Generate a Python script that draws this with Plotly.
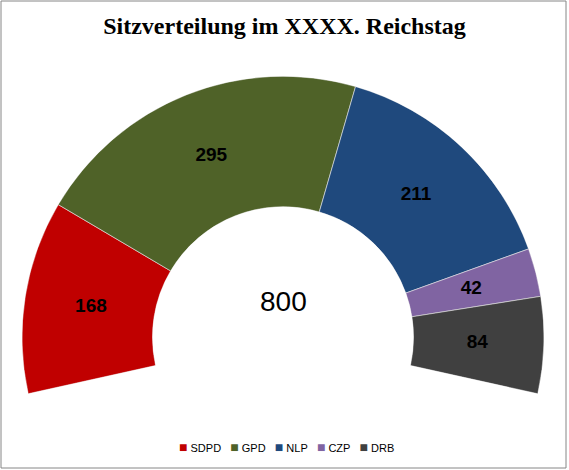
import numpy as np
import plotly.graph_objects as go

# seat data
parties = ["SDPD", "GPD", "NLP", "CZP", "DRB"]
seats = [168, 295, 211, 42, 84]
colors = ["#C00000", "#4F6228", "#1F497D", "#8064A2", "#404040"]

W, H = 569, 470
span = 205.0  # the arc dips a little below the horizontal on both sides
total = sum(seats)
deg_per_seat = span / total
ends = np.cumsum(seats) * deg_per_seat
widths = np.array(seats) * deg_per_seat
mids = ends - widths / 2

fig = go.Figure()
for i, party in enumerate(parties):
    fig.add_trace(go.Barpolar(
        r=[1], theta=[mids[i]], width=[widths[i]],
        name=party,
        marker_color=colors[i],
        marker_line_color="#e8e8e8",
        marker_line_width=0.6,
        hoverinfo="name",
    ))

# value labels in the middle of each ring segment
fig.add_trace(go.Scatterpolar(
    r=[0.49] * len(seats), theta=mids,
    mode="text",
    text=[str(s) for s in seats],
    textfont=dict(family="Liberation Sans", size=19, color="black", weight="bold"),
    showlegend=False, hoverinfo="skip",
))

# compact Excel-like legend: coloured square + name, all in one line
legend_text = "&nbsp;&nbsp;&nbsp;".join(
    f"<span style='color:{c};font-size:14px'>■</span>&nbsp;{p}" for p, c in zip(parties, colors)
)

tilt = (span - 180) / 2
fig.update_layout(
    width=W, height=H,
    margin=dict(l=0, r=0, t=0, b=0),
    paper_bgcolor="white",
    showlegend=False,
    title=dict(text="Sitzverteilung im XXXX. Reichstag",
               x=0.5, xanchor="center", y=1 - 26 / H, yanchor="middle",
               font=dict(family="Liberation Serif", size=24, color="black", weight="bold")),
    polar=dict(
        domain=dict(x=[22 / W, 544 / W], y=[1 - 394 / H, 1 - 76 / H]),
        sector=[-tilt, 180 + tilt],
        hole=0.5,
        bgcolor="white",
        radialaxis=dict(visible=False, range=[0, 1]),
        angularaxis=dict(visible=False, direction="clockwise", rotation=180 + tilt),
    ),
    annotations=[
        dict(text=str(total), x=283 / W, y=1 - 301 / H, xref="paper", yref="paper",
             showarrow=False, font=dict(family="Liberation Sans", size=28, color="black")),
        dict(text=legend_text, x=286 / W, y=1 - 447 / H, xref="paper", yref="paper",
             xanchor="center", yanchor="middle", showarrow=False,
             font=dict(family="Liberation Sans", size=11, color="black")),
    ],
    shapes=[dict(type="rect", xref="paper", yref="paper",
                 x0=1 / W, x1=566 / W, y0=1 - 468 / H, y1=1 - 1 / H,
                 line=dict(color="#868686", width=1))],
)

# page body has a default 8px margin; drop it so the chart sits at 0,0
fig.write_html("out.html", config={"displayModeBar": False},
               post_script="document.body.style.margin='0';")
